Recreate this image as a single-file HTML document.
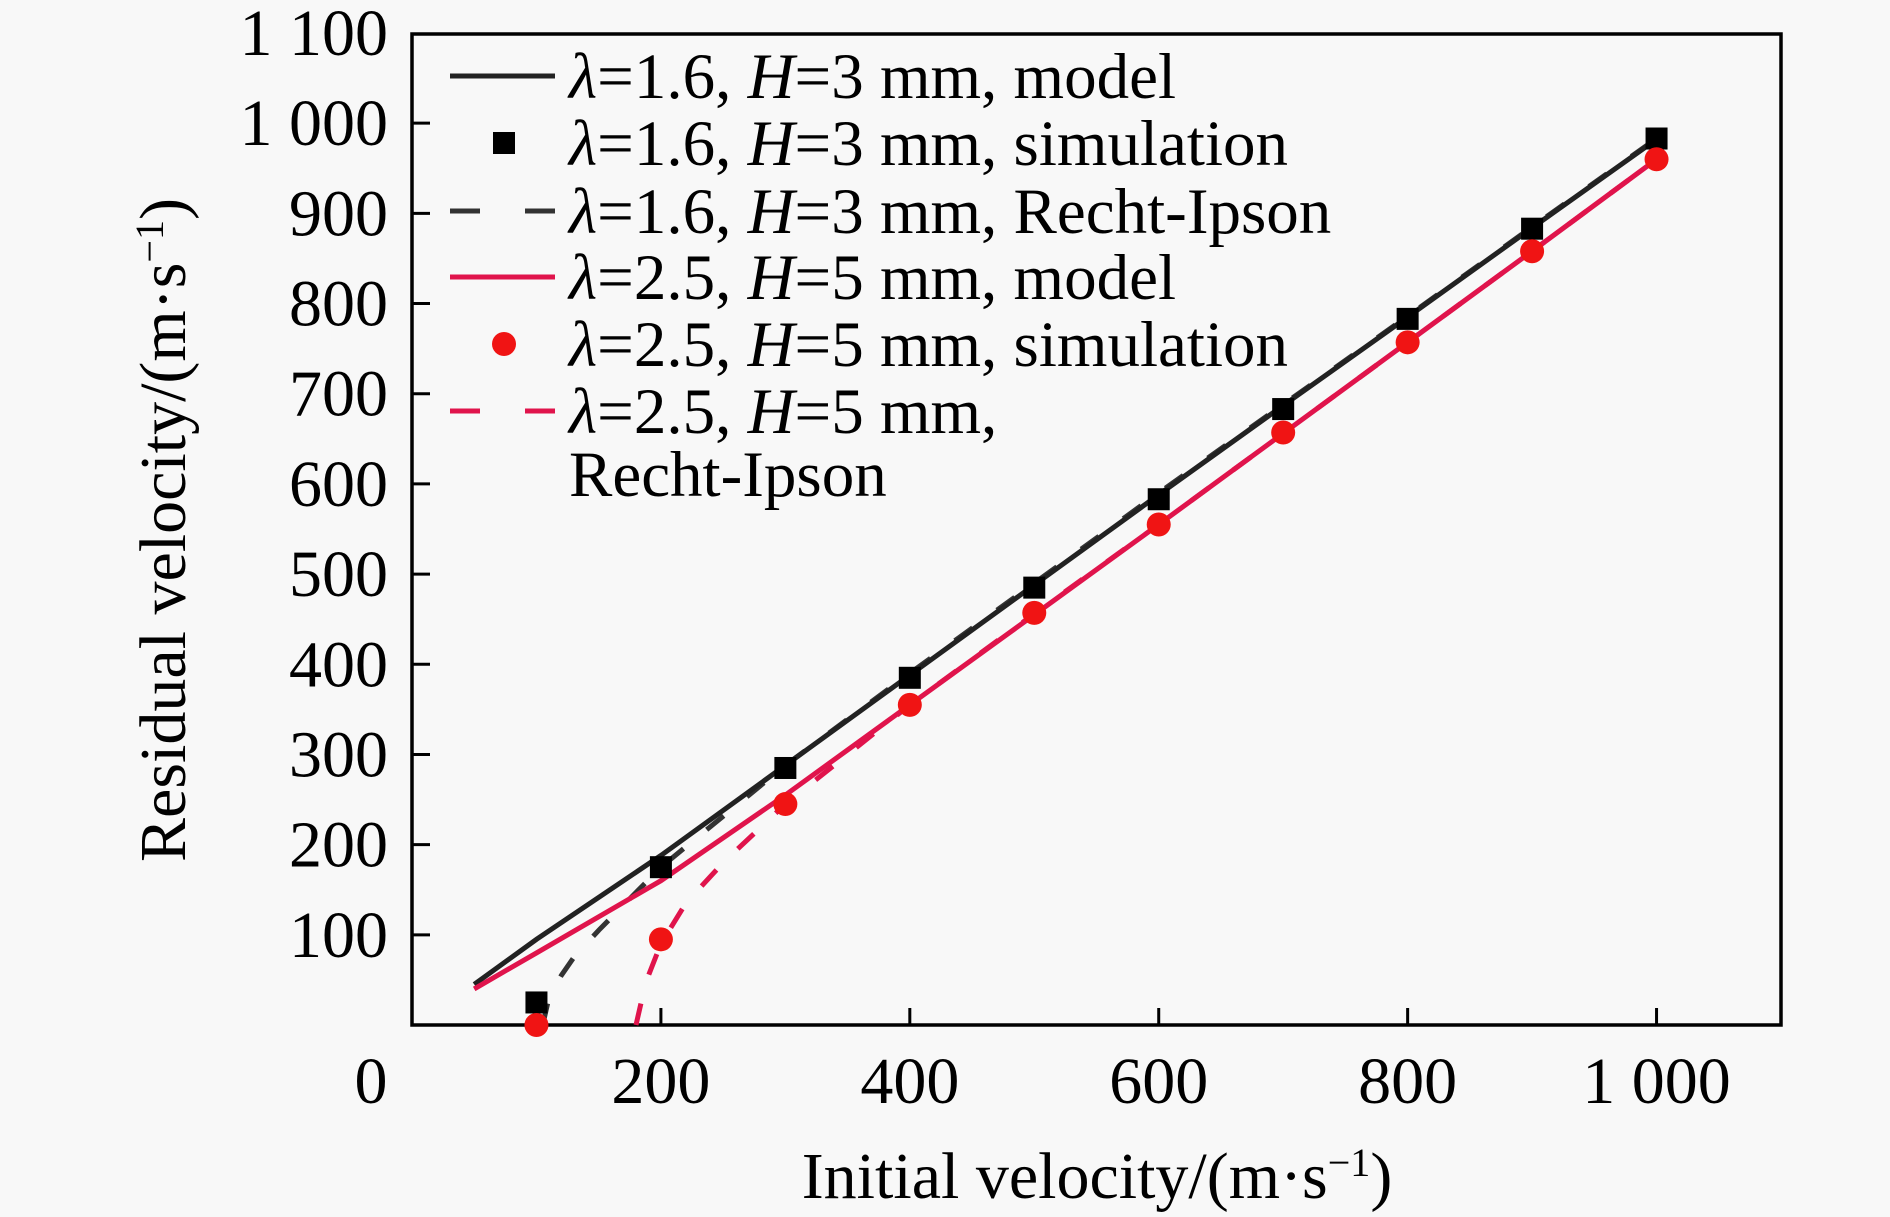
<!DOCTYPE html>
<html><head><meta charset="utf-8">
<style>
html,body{margin:0;padding:0;background:#f8f8f8;}
svg{display:block;font-family:"Liberation Serif",serif;}
</style></head>
<body>
<svg id="chart" width="1890" height="1217" viewBox="0 0 1890 1217" xmlns="http://www.w3.org/2000/svg">
<rect width="1890" height="1217" fill="#f8f8f8"/>
<g id="plot"></g>
</svg>
<script>
const xTicks=[0,200,400,600,800,1000];
const xTickLabels=["0","200","400","600","800","1 000"];
const yTicks=[100,200,300,400,500,600,700,800,900,1000,1100];
const yTickLabels=["100","200","300","400","500","600","700","800","900","1 000","1 100"];
const simX=[100,200,300,400,500,600,700,800,900,1000];
const simBlack=[25,175,285,385,485,583,683,783,883,983];
const simRed=[0,95,245,355,457,555,657,757,858,960];
const modelX=[50,100,200,300,400,500,600,700,800,900,1000];
const modelBlack=[45,95,188,288,388,488,588,687,785,884,982];
const modelRed=[40,80,160,255,355,455,555,656,757,858,960];
const riBlackX=[105,110,120,130,150,200,300,400,500,600,700,800,900,1000];
const riBlack=[0,30,55,75,105,175,288,390,490,590,688,786,885,983];
const riRedX=[180,185,190,200,220,250,300,400,500,600,700,800,900,1000];
const riRed=[0,30,55,90,135,180,245,355,456,555,656,757,858,960];

const L=412,R=1781,T=33,B=1025;
const xs=v=>L+v*(R-L)/1100;
const ys=v=>B-v*(B-T)/1100;
const NS="http://www.w3.org/2000/svg";
const g=document.getElementById('plot');
function mk(tag,attrs){const e=document.createElementNS(NS,tag);for(const k in attrs)e.setAttribute(k,attrs[k]);g.appendChild(e);return e;}

let fr=mk('rect',{x:L,y:T+1,width:R-L,height:B-T-1,fill:'none',stroke:'#000','stroke-width':3.5});



xTicks.forEach((t,i)=>{
  if(t>0){const tk=mk('line',{x1:xs(t),x2:xs(t),y1:B,y2:B-17,stroke:'#000','stroke-width':3});
  
  }
  const tx=mk('text',{x:t===0?371:xs(t),y:1103,'font-size':66,'text-anchor':'middle'});
  tx.textContent=xTickLabels[i];
  
  
});
yTicks.forEach((t,i)=>{
  if(t<1100){const tk=mk('line',{x1:L,x2:L+18,y1:ys(t),y2:ys(t),stroke:'#000','stroke-width':3});
  
  }
  const tx=mk('text',{x:388,y:ys(t)+22,'font-size':66,'text-anchor':'end'});
  tx.textContent=yTickLabels[i];
  
  
});

function line(xa,ya,color,dash,name){
  const d=xa.map((x,i)=>(i?'L':'M')+xs(x).toFixed(1)+' '+ys(ya[i]).toFixed(1)).join(' ');
  const p=mk('path',{d:d,fill:'none',stroke:color,'stroke-width':5});
  if(dash)p.setAttribute('stroke-dasharray',dash);
  
  
}
line(riBlackX,riBlack,'#333','22 30','black-recht-ipson-line');
line(riRedX,riRed,'#e0144c','22 30','red-recht-ipson-line');
line(modelX,modelBlack,'#222',null,'black-model-line');
line(modelX,modelRed,'#e0144c',null,'red-model-line');
simX.forEach((x,i)=>{
  const s=mk('rect',{x:xs(x)-11,y:ys(simBlack[i])-11,width:22,height:22,fill:'#000'});
  
  
  const c=mk('circle',{cx:xs(x),cy:ys(simRed[i]),r:12,fill:'#f01414'});
  
  
});
</script>
<svg style="position:absolute;left:0;top:0" width="1890" height="1217">
<g font-family="Liberation Serif, serif" font-size="65">
  <line x1="450" x2="555" y1="76" y2="76" stroke="#222" stroke-width="5"/>
  <text x="569" y="98"><tspan font-style="italic">λ</tspan>=1.6, <tspan font-style="italic">H</tspan>=3 mm, model</text>
  <rect x="493" y="132" width="22" height="22" fill="#000"/>
  <text x="569" y="165"><tspan font-style="italic">λ</tspan>=1.6, <tspan font-style="italic">H</tspan>=3 mm, simulation</text>
  <line x1="450" x2="555" y1="211" y2="211" stroke="#333" stroke-width="5" stroke-dasharray="30 45"/>
  <text x="569" y="233"><tspan font-style="italic">λ</tspan>=1.6, <tspan font-style="italic">H</tspan>=3 mm, Recht-Ipson</text>
  <line x1="450" x2="555" y1="277" y2="277" stroke="#e0144c" stroke-width="5"/>
  <text x="569" y="299"><tspan font-style="italic">λ</tspan>=2.5, <tspan font-style="italic">H</tspan>=5 mm, model</text>
  <circle cx="504" cy="344" r="12" fill="#f01414"/>
  <text x="569" y="366"><tspan font-style="italic">λ</tspan>=2.5, <tspan font-style="italic">H</tspan>=5 mm, simulation</text>
  <line x1="450" x2="555" y1="411" y2="411" stroke="#e0144c" stroke-width="5" stroke-dasharray="30 45"/>
  <text x="569" y="433"><tspan font-style="italic">λ</tspan>=2.5, <tspan font-style="italic">H</tspan>=5 mm,</text>
  <text x="569" y="496">Recht-Ipson</text>
</g>
<text x="1097" y="1198" font-family="Liberation Serif, serif" font-size="66" text-anchor="middle">Initial velocity/(m·s<tspan baseline-shift="super" font-size="40">−1</tspan>)</text>
<text transform="translate(185,530) rotate(-90)" font-family="Liberation Serif, serif" font-size="66" text-anchor="middle">Residual velocity/(m·s<tspan baseline-shift="super" font-size="40">−1</tspan>)</text>
</svg>
</body></html>
